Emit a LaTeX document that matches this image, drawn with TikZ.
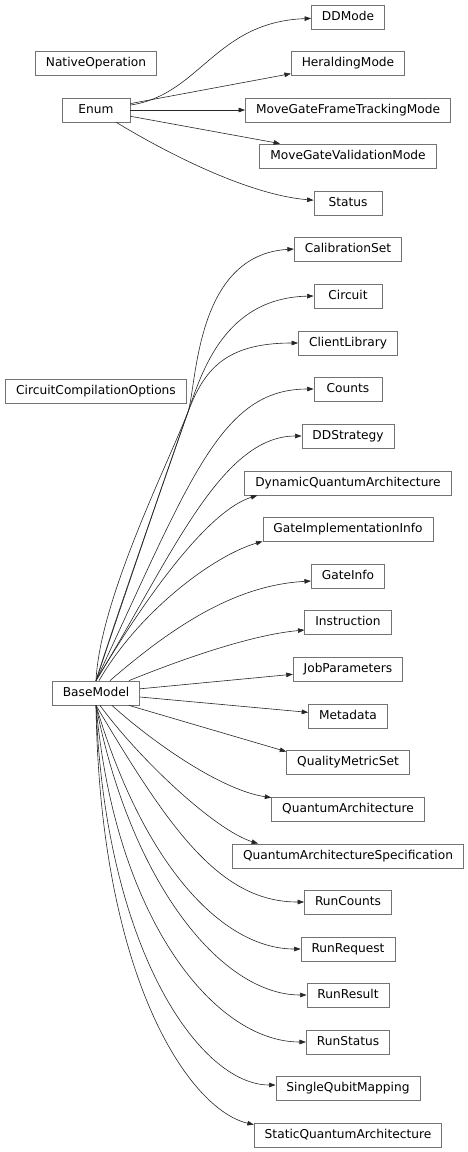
\documentclass[tikz,border=0pt]{standalone}
\usepackage{fontspec}
\setmainfont{DejaVu Sans}
\usetikzlibrary{arrows.meta}

\tikzset{
	cls/.style = {draw = black!55, line width = 0.8pt, rectangle, minimum width = 68pt, minimum height = 24pt, inner xsep = 10.5pt, inner ysep = 0pt, text height = 9pt, text depth = 3pt, font = \fontsize{12.2pt}{14pt}\selectfont},
	inh/.style = {draw = black!85, line width = 0.6pt, -{Triangle[length = 6.5pt, width = 4.6pt]}}
}

\begin{document}
\begin{tikzpicture}[x = 1pt, y = -1pt]
						\useasboundingbox (0, 0) rectangle (468, 1152);
						% left column
						\node[cls] (native) at (96, 63) {NativeOperation};
						\node[cls] (enum) at (96, 110) {Enum};
						\node[cls] (ccopts) at (96, 391) {CircuitCompilationOptions};
						\node[cls] (basemodel) at (96, 693) {BaseModel};
						% right column
						\node[cls] (ddmode) at (348, 17) {DDMode};
						\node[cls] (herald) at (348, 63) {HeraldingMode};
						\node[cls] (mgftm) at (348, 110) {MoveGateFrameTrackingMode};
						\node[cls] (mgvm) at (348, 156) {MoveGateValidationMode};
						\node[cls] (status) at (348, 203) {Status};
						\node[cls] (calib) at (348, 249) {CalibrationSet};
						\node[cls] (circuit) at (348, 296) {Circuit};
						\node[cls] (clientlib) at (348, 343) {ClientLibrary};
						\node[cls] (counts) at (348, 389) {Counts};
						\node[cls] (ddstrat) at (348, 436) {DDStrategy};
						\node[cls] (dynqa) at (348, 483) {DynamicQuantumArchitecture};
						\node[cls] (gateimpl) at (348, 529) {GateImplementationInfo};
						\node[cls] (gateinfo) at (348, 576) {GateInfo};
						\node[cls] (instr) at (348, 622) {Instruction};
						\node[cls] (jobparams) at (348, 669) {JobParameters};
						\node[cls] (metadata) at (348, 716) {Metadata};
						\node[cls] (qms) at (348, 762) {QualityMetricSet};
						\node[cls] (quarch) at (348, 809) {QuantumArchitecture};
						\node[cls] (quarchspec) at (348, 856) {QuantumArchitectureSpecification};
						\node[cls] (runcounts) at (348, 902) {RunCounts};
						\node[cls] (runreq) at (348, 949) {RunRequest};
						\node[cls] (runres) at (348, 995) {RunResult};
						\node[cls] (runstat) at (348, 1042) {RunStatus};
						\node[cls] (sqmap) at (348, 1088) {SingleQubitMapping};
						\node[cls] (staticqa) at (348, 1135) {StaticQuantumArchitecture};
						% Enum
						\draw[inh] (enum) .. controls (200, 95) and (215, 22) .. (ddmode);
						\draw[inh] (enum) -- (herald);
						\draw[inh] (enum) -- (mgftm);
						\draw[inh] (enum) -- (mgvm);
						\draw[inh] (enum) .. controls (170, 155) and (250, 195) .. (status);
						% BaseModel, upper fan (the first three cross beside CircuitCompilationOptions)
						\coordinate (cross) at (188, 412);
						\draw[inh] (basemodel.north) .. controls (100, 600) and (165, 470) .. (cross) .. controls (197, 385) and (195, 255) .. (calib.west);
						\draw[inh] (basemodel.north) .. controls (115, 620) and (172, 458) .. (cross) .. controls (202, 371) and (225, 298) .. (circuit.west);
						\draw[inh] (basemodel.north) .. controls (117, 618) and (170, 462) .. (cross) .. controls (204, 370) and (225, 343) .. (clientlib.west);
						\draw[inh] (basemodel.north) .. controls (190, 480) and (220, 389) .. (counts.west);
						\draw[inh] (basemodel.north) .. controls (170, 560) and (220, 436) .. (ddstrat.west);
						\draw[inh] (basemodel.north) .. controls (150, 590) and (210, 510) .. ([xshift = 13pt]dynqa.south west);
						\draw[inh] ([xshift = 3pt]basemodel.north) .. controls (140, 610) and (215, 555) .. (gateimpl.south west);
						\draw[inh] ([xshift = 14pt]basemodel.north) .. controls (180, 620) and (240, 585) .. ([yshift = -5pt]gateinfo.west);
						\draw[inh] ([xshift = 33pt]basemodel.north) .. controls (180, 660) and (250, 635) .. ([yshift = -8pt]instr.west);
						% BaseModel, middle
						\draw[inh] (basemodel) -- (jobparams);
						\draw[inh] (basemodel) -- (metadata);
						\draw[inh] ([xshift = 33pt]basemodel.south) -- ([yshift = -2pt]qms.north west);
						% BaseModel, lower fan
						\draw[inh] ([xshift = 16pt]basemodel.south) .. controls (150, 740) and (220, 790) .. ([yshift = -1pt]quarch.north west);
						\draw[inh] ([xshift = 4pt]basemodel.south) .. controls (140, 760) and (215, 830) .. ([xshift = 26pt]quarchspec.north west);
						\draw[inh] (basemodel.south) .. controls (170, 830) and (220, 902) .. (runcounts.west);
						\draw[inh] (basemodel.south) .. controls (145, 870) and (225, 949) .. (runreq.west);
						\draw[inh] (basemodel.south) .. controls (130, 880) and (220, 995) .. (runres.west);
						\draw[inh] (basemodel.south) .. controls (115, 920) and (215, 1042) .. (runstat.west);
						\draw[inh] (basemodel.south) .. controls (105, 950) and (200, 1085) .. ([yshift = 3pt]sqmap.west);
						\draw[inh] (basemodel.south) .. controls (100, 980) and (190, 1110) .. ([yshift = -2pt]staticqa.north west);
					\end{tikzpicture}
\end{document}
